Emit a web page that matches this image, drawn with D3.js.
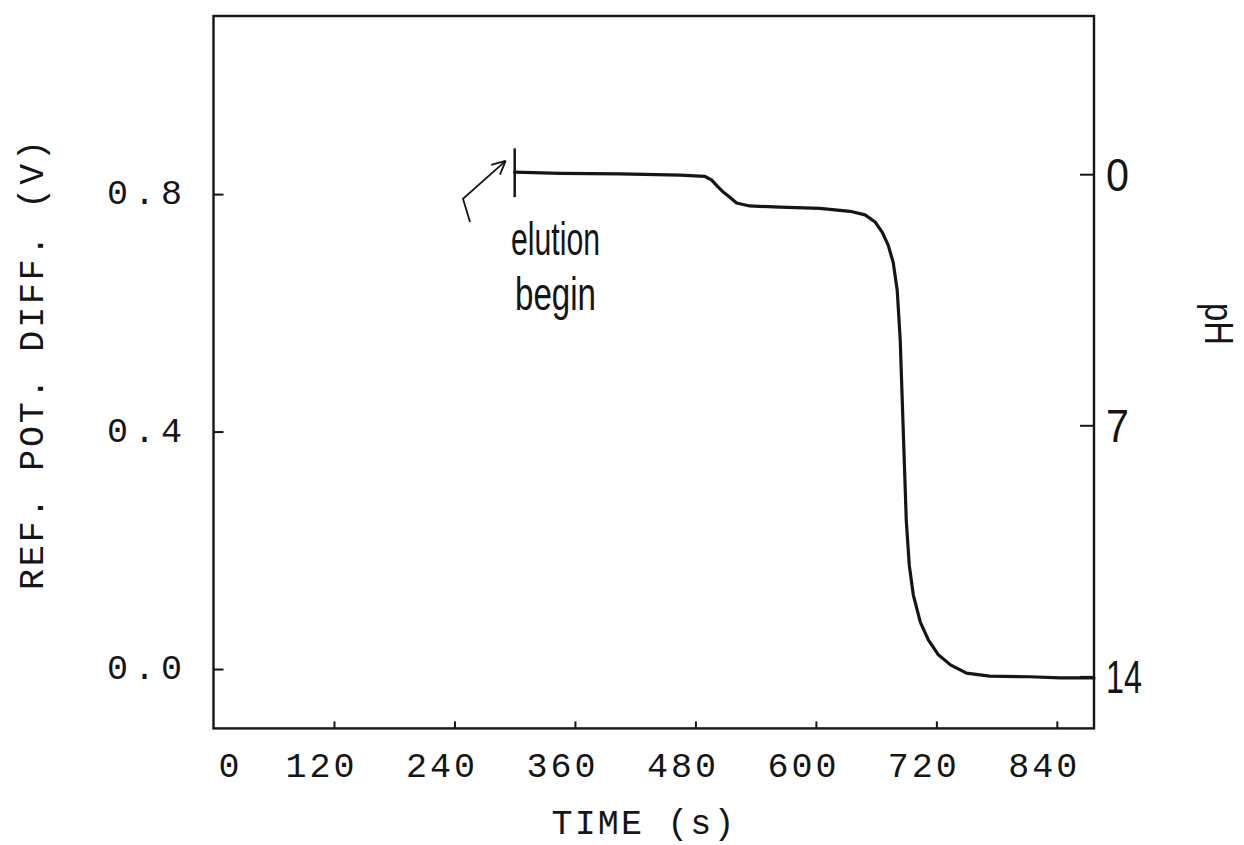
<!DOCTYPE html>
<html>
<head>
<meta charset="utf-8">
<script src="https://cdn.jsdelivr.net/npm/d3@7"></script>
<style>
  html, body { margin: 0; padding: 0; background: #fff; }
  svg { display: block; }
</style>
</head>
<body>
<svg id="chart" width="1244" height="845"></svg>
<script>
// ---------- data ----------
const timeSec = [300, 345, 405, 465, 489, 496, 502, 508, 514, 521, 534, 564, 604, 634, 649, 659, 666, 672, 677, 681, 684, 686, 688, 690, 693, 697, 704, 712, 722, 734, 750, 773, 813, 843, 871, 877];
const potV    = [0.837, 0.835, 0.834, 0.832, 0.830, 0.824, 0.813, 0.803, 0.795, 0.785, 0.780, 0.778, 0.776, 0.771, 0.765, 0.753, 0.736, 0.714, 0.685, 0.638, 0.554, 0.453, 0.352, 0.251, 0.175, 0.125, 0.079, 0.049, 0.024, 0.007, -0.007, -0.012, -0.013, -0.015, -0.015, -0.015];
const startTime = 300;
const startMarkV = [0.795, 0.877];

const xTicks = [0, 120, 240, 360, 480, 600, 720, 840];
const xTickLabels = ["0", "120", "240", "360", "480", "600", "720", "840"];
const yTicks = [0.0, 0.4, 0.8];
const yTickLabels = ["0.0", "0.4", "0.8"];
const pHTicks = [0, 7, 14];
const pHTickLabels = ["0", "7", "14"];

const xTitle = "TIME (s)";
const yTitle = "REF. POT. DIFF. (V)";
const y2Title = "pH";
const noteLines = ["elution", "begin"];
// arrow path in data coordinates (time, volts)
const arrowPts = [[255.5, 0.753], [248.5, 0.792], [291, 0.856]];

// ---------- layout ----------
const L = 213.5, R = 1094, T = 16, B = 728.4;
const ink = "#151515";
const monoFont = "'Liberation Mono', 'DejaVu Sans Mono', monospace";
const handFont = "'Liberation Sans Narrow', 'Liberation Sans', sans-serif";

const svg = d3.select("#chart");
svg.append("rect").attr("width", 1244).attr("height", 845).attr("fill", "#fff");

const x = d3.scaleLinear().domain([0, 877]).range([L, R]);
const y = d3.scaleLinear().domain([-0.1, 1.1]).range([B, T]);
const yPH = d3.scaleLinear().domain([15.45, -4.41]).range([B, T]);

// frame
svg.append("rect")
  .attr("x", L).attr("y", T).attr("width", R - L).attr("height", B - T)
  .attr("fill", "none").attr("stroke", ink).attr("stroke-width", 2.4);

// bottom axis (inward ticks)
const gx = svg.append("g").attr("transform", `translate(0,${B})`)
  .call(d3.axisBottom(x).tickValues(xTicks.slice(1)).tickSize(-7).tickFormat(""));
gx.select(".domain").remove();
gx.selectAll("line").attr("stroke", ink).attr("stroke-width", 2);

svg.append("g").selectAll("text").data(xTicks).join("text")
  .attr("x", (d, i) => x(d) + (i === 0 ? 15.5 : -14))
  .attr("y", 777)
  .attr("text-anchor", "middle")
  .attr("font-family", monoFont).attr("font-size", 35).attr("fill", ink)
  .attr("textLength", (d, i) => xTickLabels[i].length === 1 ? 22 : 69)
  .attr("lengthAdjust", "spacing")
  .text((d, i) => xTickLabels[i]);

// left axis (inward ticks)
const gy = svg.append("g").attr("transform", `translate(${L},0)`)
  .call(d3.axisLeft(y).tickValues(yTicks).tickSize(-10).tickFormat(""));
gy.select(".domain").remove();
gy.selectAll("line").attr("stroke", ink).attr("stroke-width", 2);

svg.append("g").selectAll("text").data(yTicks).join("text")
  .attr("x", 182)
  .attr("y", d => y(d) + 10)
  .attr("text-anchor", "end")
  .attr("font-family", monoFont).attr("font-size", 35).attr("fill", ink)
  .attr("textLength", 75).attr("lengthAdjust", "spacing")
  .text((d, i) => yTickLabels[i]);

// right axis (pH, inward ticks)
const gy2 = svg.append("g").attr("transform", `translate(${R},0)`)
  .call(d3.axisRight(yPH).tickValues(pHTicks).tickSize(-14).tickFormat(""));
gy2.select(".domain").remove();
gy2.selectAll("line").attr("stroke", ink).attr("stroke-width", 2);

svg.append("g").selectAll("text").data(pHTicks).join("text")
  .attr("x", 1106)
  .attr("y", d => yPH(d) + 17)
  .attr("text-anchor", "start")
  .attr("font-family", handFont).attr("font-size", 47).attr("font-weight", 300).attr("fill", ink)
  .attr("textLength", (d, i) => pHTickLabels[i].length === 1 ? 23 : 36)
  .attr("lengthAdjust", "spacingAndGlyphs")
  .text((d, i) => pHTickLabels[i]);

// axis titles
svg.append("text")
  .attr("x", 643).attr("y", 834)
  .attr("text-anchor", "middle")
  .attr("font-family", monoFont).attr("font-size", 35).attr("fill", ink)
  .attr("textLength", 183).attr("lengthAdjust", "spacing")
  .style("white-space", "pre")
  .text(xTitle);

svg.append("text")
  .attr("transform", "translate(43,365) rotate(-90)")
  .attr("text-anchor", "middle")
  .attr("font-family", monoFont).attr("font-size", 35).attr("fill", ink)
  .attr("textLength", 450).attr("lengthAdjust", "spacing")
  .text(yTitle);

svg.append("text")
  .attr("transform", "translate(1205,324) rotate(90)")
  .attr("text-anchor", "middle")
  .attr("font-family", handFont).attr("font-size", 40).attr("fill", ink)
  .attr("textLength", 42).attr("lengthAdjust", "spacingAndGlyphs")
  .text(y2Title);

// curve
const line = d3.line().x((d, i) => x(timeSec[i])).y(d => y(d)).curve(d3.curveLinear);
svg.append("path")
  .datum(potV)
  .attr("d", line)
  .attr("fill", "none").attr("stroke", ink).attr("stroke-width", 3.2)
  .attr("stroke-linejoin", "round").attr("stroke-linecap", "round");

// start marker
svg.append("line")
  .attr("x1", x(startTime)).attr("x2", x(startTime))
  .attr("y1", y(startMarkV[0])).attr("y2", y(startMarkV[1]))
  .attr("stroke", ink).attr("stroke-width", 2.5);

// annotation arrow
const arrowLine = d3.line().x(d => x(d[0])).y(d => y(d[1]));
svg.append("path").attr("d", arrowLine(arrowPts))
  .attr("fill", "none").attr("stroke", ink).attr("stroke-width", 1.8);
const tip = arrowPts[2], prev = arrowPts[1];
const tx = x(tip[0]), ty = y(tip[1]);
const ang = Math.atan2(ty - y(prev[1]), tx - x(prev[0]));
[0.45, -0.45].forEach(da => {
  svg.append("line")
    .attr("x1", tx).attr("y1", ty)
    .attr("x2", tx - 15 * Math.cos(ang + da)).attr("y2", ty - 15 * Math.sin(ang + da))
    .attr("stroke", ink).attr("stroke-width", 1.8);
});

// annotation text
svg.append("text")
  .attr("x", 511).attr("y", 255)
  .attr("font-family", handFont).attr("font-size", 46).attr("font-weight", 300).attr("fill", ink)
  .attr("textLength", 89).attr("lengthAdjust", "spacingAndGlyphs")
  .text(noteLines[0]);
svg.append("text")
  .attr("x", 515).attr("y", 310)
  .attr("font-family", handFont).attr("font-size", 46).attr("font-weight", 300).attr("fill", ink)
  .attr("textLength", 81).attr("lengthAdjust", "spacingAndGlyphs")
  .text(noteLines[1]);
</script>
</body>
</html>
